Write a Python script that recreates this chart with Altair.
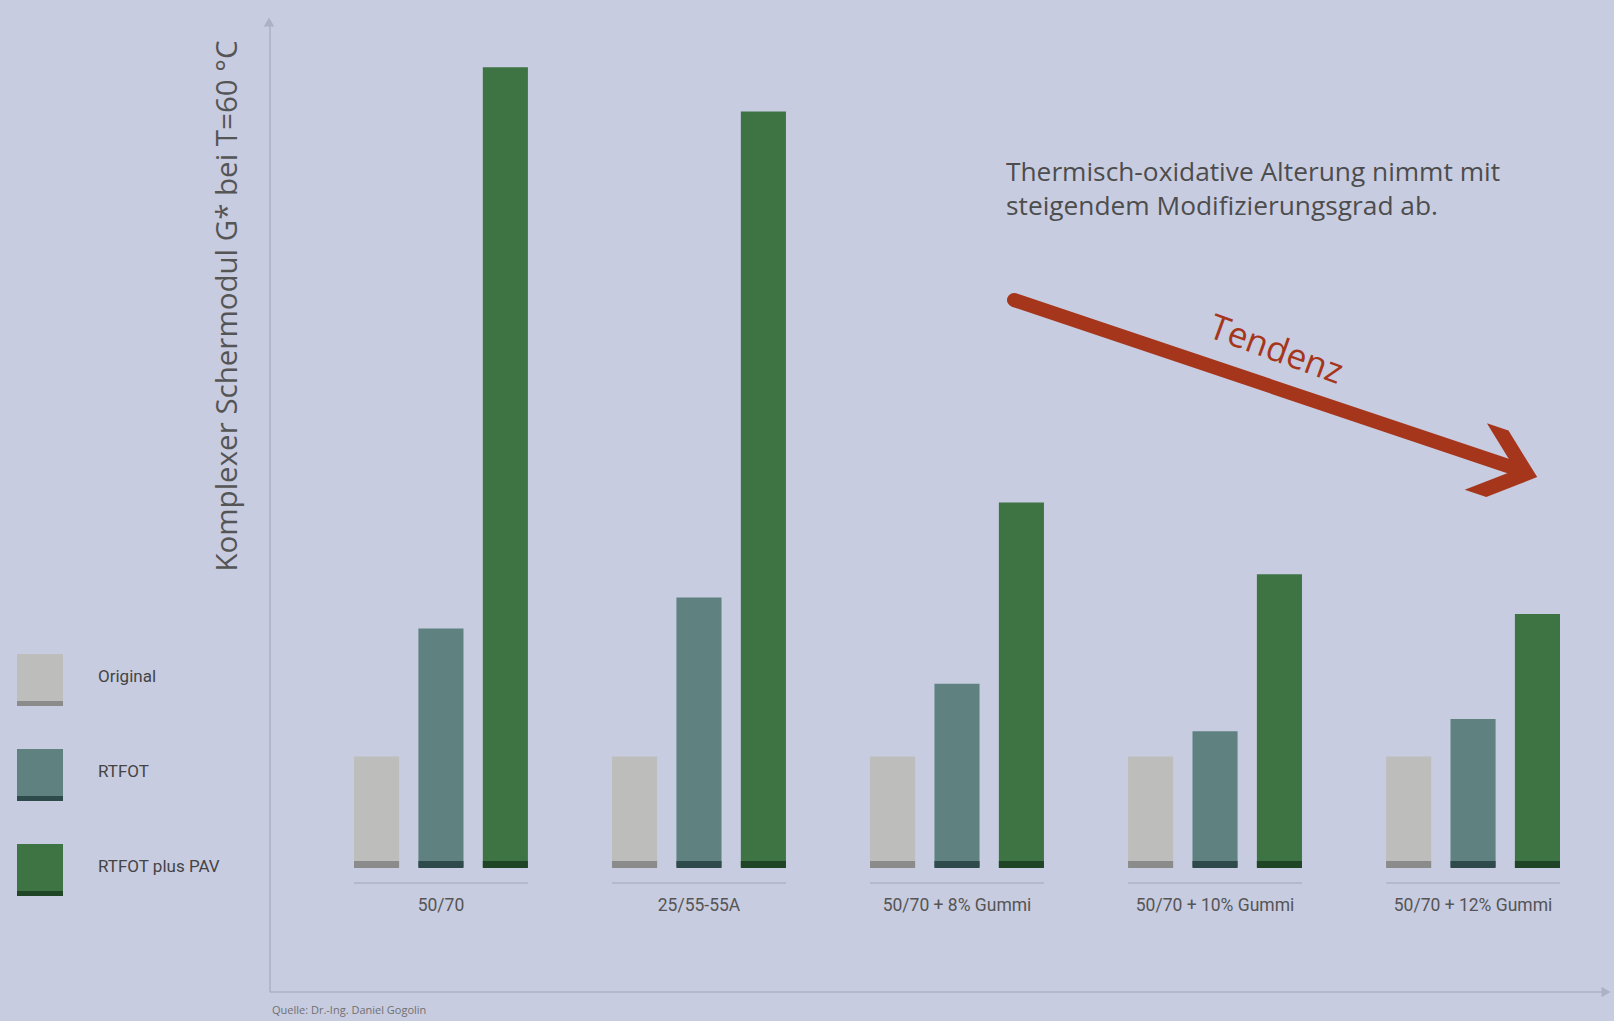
import altair as alt
import pandas as pd

# ---- data (relative G*, Original = 1) ----
groups = ["50/70", "25/55-55A", "50/70 + 8% Gummi", "50/70 + 10% Gummi", "50/70 + 12% Gummi"]
series = ["Original", "RTFOT", "RTFOT plus PAV"]
original = [1.0, 1.0, 1.0, 1.0, 1.0]
rtfot = [2.16, 2.44, 1.66, 1.23, 1.34]
rtfot_pav = [7.24, 6.84, 3.30, 2.65, 2.29]

y_title = "Komplexer Schermodul G* bei T=60 °C"
note_lines = ["Thermisch-oxidative Alterung nimmt mit", "steigendem Modifizierungsgrad ab."]
trend_label = "Tendenz"
source_text = "Quelle: Dr.-Ing. Daniel Gogolin"

bar_colors = ["#bdbdbb", "#5f8280", "#3e7344"]
stripe_colors = ["#8b8b8b", "#2e4a4b", "#1f4526"]
bg = "#c8cce0"
axis_col = "#adb1c6"
arrow_col = "#a6361b"
FONT = "Roboto"
FONT_W = "Open Sans"

rows = []
for i, g in enumerate(groups):
    for s, vals in zip(series, [original, rtfot, rtfot_pav]):
        rows.append({"group": g, "series": s, "value": vals[i]})
bars_df = pd.DataFrame(rows)
group_df = pd.DataFrame({"group": groups})
legend_df = pd.DataFrame({"series": series})
one = pd.DataFrame({"k": [0]})

x_enc = alt.X("group:N", scale=alt.Scale(type="band", domain=groups, range=[354, 1560],
                                         paddingInner=0.326, paddingOuter=0), axis=None)
xoff = alt.XOffset("series:N", scale=alt.Scale(domain=series, paddingInner=0.3, paddingOuter=0))
y_scale = alt.Scale(domain=[0, 7.85], range=[867, 0], nice=False, zero=True)
col_bar = alt.Color("series:N", scale=alt.Scale(domain=series, range=bar_colors), legend=None)
col_stripe = alt.Color("series:N", scale=alt.Scale(domain=series, range=stripe_colors), legend=None)


def leg_y():
    return alt.Y("series:N", scale=alt.Scale(type="band", domain=series, range=[654, 896],
                                             paddingInner=0.453, paddingOuter=0),
                 axis=None, bandPosition=0.5)


bars = alt.Chart(bars_df).mark_bar().encode(
    x=x_enc, xOffset=xoff, y=alt.Y("value:Q", scale=y_scale, axis=None), color=col_bar)
stripes = alt.Chart(bars_df).mark_bar().encode(
    x=x_enc, xOffset=xoff, y=alt.value(861), y2=alt.value(868), color=col_stripe)
glines = alt.Chart(group_df).mark_bar(color="#b5b9ce").encode(
    x=x_enc, y=alt.value(882), y2=alt.value(884))
glabels = alt.Chart(group_df).mark_text(font=FONT, fontSize=17.5, color="#555555").encode(
    x=x_enc, y=alt.value(906), text="group:N")

leg_rect = alt.Chart(legend_df).mark_rect().encode(
    x=alt.value(17), x2=alt.value(63),
    y=alt.Y("series:N", scale=alt.Scale(type="band", domain=series, range=[654, 896],
                                        paddingInner=0.453, paddingOuter=0), axis=None),
    color=col_bar)
leg_stripe = alt.Chart(legend_df).mark_rule(strokeWidth=5, yOffset=23.5).encode(
    x=alt.value(17), x2=alt.value(63), y=leg_y(), color=col_stripe)
leg_text = alt.Chart(legend_df).mark_text(font=FONT, fontSize=17, color="#444444",
                                          align="left", dy=-3).encode(
    x=alt.value(98), y=leg_y(), text="series:N")

yaxis = alt.Chart(one).mark_rule(color=axis_col, strokeWidth=1.5).encode(
    x=alt.value(270), y=alt.value(24), y2=alt.value(992))
xaxis = alt.Chart(one).mark_rule(color=axis_col, strokeWidth=1.5).encode(
    x=alt.value(270), x2=alt.value(1603), y=alt.value(992))
yhead = alt.Chart(one).mark_point(shape="triangle-up", filled=True, size=110,
                                  color=axis_col, opacity=1).encode(
    x=alt.value(269), y=alt.value(22))
xhead = alt.Chart(one).mark_point(shape="triangle-right", filled=True, size=110,
                                  color=axis_col, opacity=1).encode(
    x=alt.value(1606), y=alt.value(992))

ytitle = alt.Chart(one).mark_text(text=y_title, angle=270, font=FONT_W, fontSize=29.5,
                                  color="#555555").encode(x=alt.value(228), y=alt.value(306))
note = alt.Chart(one).mark_text(text=note_lines, align="left", baseline="top", lineHeight=34,
                                font=FONT_W, fontSize=26.3, color="#4d4d4d").encode(
    x=alt.value(1006), y=alt.value(160))

shaft = alt.Chart(one).mark_rule(color=arrow_col, strokeWidth=14, strokeCap="round").encode(
    x=alt.value(1014), y=alt.value(300), x2=alt.value(1514), y2=alt.value(468))
head = alt.Chart(one).mark_point(
    shape="M 1 0 L -0.2 -1 L -0.85 -1 L 0.35 0 L -0.85 1 L -0.2 1 Z",
    filled=True, size=4900, angle=18.5, color=arrow_col, opacity=1).encode(
    x=alt.value(1504), y=alt.value(466))
tend = alt.Chart(one).mark_text(text=trend_label, angle=20, font=FONT_W, fontSize=35,
                                color=arrow_col).encode(x=alt.value(1276), y=alt.value(350))
source = alt.Chart(one).mark_text(text=source_text, align="left", font=FONT_W, fontSize=11,
                                  color="#707070").encode(x=alt.value(272), y=alt.value(1011))

chart = alt.layer(
    yaxis, xaxis, yhead, xhead,
    bars, stripes, glines, glabels,
    leg_rect, leg_stripe, leg_text,
    ytitle, note, shaft, head, tend, source,
).resolve_scale(y="independent", color="independent").properties(
    width=1614, height=1021,
    autosize=alt.AutoSizeParams(type="none"),
    padding=0,
    background=bg,
).configure_view(strokeOpacity=0)

chart.save("out.html", embed_options={"renderer": "svg", "actions": False})
